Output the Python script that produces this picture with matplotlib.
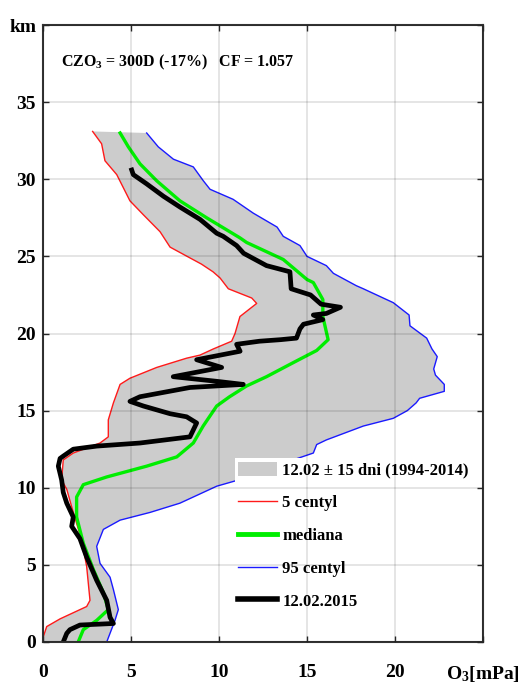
import matplotlib
matplotlib.use('Agg')
import matplotlib.pyplot as plt
from matplotlib.patches import Patch
from matplotlib.lines import Line2D

# ozone partial pressure [mPa] vs altitude [km]
p05_o3 = [2.82, 3.33, 3.52, 4.19, 4.94, 5.70, 6.65, 7.22, 8.35, 9.00, 9.66, 10.06, 10.53, 11.86, 12.14,
          11.19, 10.91, 10.72, 9.68, 8.92, 8.16, 6.46, 4.94, 4.38, 4.00, 3.71, 3.71, 3.24, 1.72, 1.15,
          1.06, 1.35, 1.72, 2.20, 2.48, 2.67, 2.48, 0.97, 0.21, 0.02, 0.0]
p05_alt = [33.1, 32.3, 31.2, 30.3, 28.6, 27.7, 26.6, 25.6, 24.9, 24.5, 24.0, 23.6, 22.9, 22.3, 21.95,
           21.1, 20.0, 19.5, 19.0, 18.6, 18.4, 17.8, 17.1, 16.7, 15.5, 14.4, 13.3, 12.9, 12.25, 11.8,
           10.5, 9.9, 8.4, 6.6, 4.9, 2.7, 2.3, 1.5, 1.0, 0.35, 0.0]

p95_o3 = [5.89, 6.55, 7.41, 8.54, 9.11, 9.49, 10.8, 11.95, 13.3, 13.65, 14.6, 15.0, 16.1, 16.5, 17.8,
          18.2, 19.9, 20.8, 20.85, 21.8, 22.1, 22.4, 22.2, 22.3, 22.8, 22.8, 21.4, 21.2, 20.7, 19.9,
          18.2, 16.1, 15.55, 15.36, 14.2, 13.85, 11.4, 9.87, 7.78, 6.08, 4.38, 3.43, 3.05, 3.24, 3.81,
          4.0, 4.28, 4.09, 3.62]
p95_alt = [33.0, 32.1, 31.3, 30.8, 29.9, 29.35, 28.7, 27.8, 26.9, 26.3, 25.7, 25.0, 24.4, 23.9, 23.1,
           22.9, 22.0, 21.2, 20.5, 19.7, 19.0, 18.5, 17.7, 17.3, 16.7, 16.25, 15.8, 15.5, 15.0, 14.5,
           14.0, 13.1, 12.8, 12.25, 11.8, 11.5, 10.6, 10.1, 9.0, 8.4, 7.9, 7.3, 6.2, 5.1, 4.2,
           3.4, 2.1, 1.4, 0.0]

med_o3 = [4.38, 4.85, 5.51, 6.46, 7.78, 9.3, 11.19, 11.57, 13.65, 15.0, 15.36, 15.9, 15.9, 16.2, 15.55,
          14.2, 12.7, 11.57, 10.6, 9.87, 9.1, 8.54, 7.6, 5.89, 3.62, 2.29, 1.91, 1.91, 2.29, 2.86,
          3.43, 3.71, 3.05, 2.29, 2.0]
med_alt = [33.0, 32.1, 31.0, 29.9, 28.6, 27.5, 26.2, 25.9, 24.8, 23.5, 23.3, 22.2, 21.1, 19.6, 18.9,
           18.1, 17.2, 16.6, 15.9, 15.3, 14.0, 12.9, 12.0, 11.4, 10.7, 10.2, 9.4, 8.1, 6.4, 4.7,
           3.2, 2.1, 1.4, 0.8, 0.0]

sonde_o3 = [5.04, 5.13, 5.89, 6.84, 7.78, 8.92, 9.87, 10.24, 11.0, 11.4, 12.7, 14.03, 14.1, 15.2, 15.8,
            16.9, 16.1, 15.36, 15.9, 14.8, 14.6, 14.4, 13.5, 12.3, 11.0, 11.2, 8.73, 10.15, 7.4, 9.87,
            11.38, 8.35, 5.51, 4.94, 5.7, 7.22, 8.16, 8.73, 8.35, 5.51, 3.05, 1.72, 1.15, 0.97, 0.87,
            1.06, 1.15, 1.35, 1.72, 1.63, 2.1, 2.48, 3.05, 3.62, 3.81, 4.0, 2.1, 1.53, 1.35, 1.15]
sonde_alt = [30.6, 30.3, 29.7, 28.9, 28.2, 27.4, 26.5, 26.3, 25.7, 25.2, 24.4, 24.0, 22.9, 22.5, 21.9,
             21.7, 21.3, 21.2, 20.9, 20.6, 20.3, 19.7, 19.6, 19.5, 19.3, 18.85, 18.3, 17.8, 17.2, 16.9,
             16.7, 16.5, 15.9, 15.6, 15.3, 14.8, 14.6, 14.2, 13.3, 12.9, 12.7, 12.5, 12.05, 11.9, 11.4,
             10.5, 9.7, 9.0, 8.1, 7.5, 6.7, 5.5, 4.0, 2.7, 1.6, 1.2, 1.1, 0.8, 0.56, 0.0]

x_ticks = [0, 5, 10, 15, 20, 25]
x_labels = ['0', '5', '10', '15', '20', 'O$_3$[mPa]']
y_ticks = [0, 5, 10, 15, 20, 25, 30, 35, 40]
y_labels = ['0', '5', '10', '15', '20', '25', '30', '35', 'km']
legend_labels = ['12.02 \u00b1 15 dni (1994-2014)', '5 centyl', 'mediana', '95 centyl', '12.02.2015']
info_text = 'CZO$_3$ = 300D (-17%)   CF = 1.057'

plt.rcParams['font.family'] = 'Liberation Serif'
plt.rcParams['font.weight'] = 'bold'
plt.rcParams['mathtext.fontset'] = 'custom'
plt.rcParams['mathtext.rm'] = 'Liberation Serif:bold'
plt.rcParams['mathtext.default'] = 'rm'

fig = plt.figure(figsize=(5.23, 6.95), dpi=100)
ax = fig.add_axes([43 / 523, 1 - 642 / 695, 440 / 523, 617 / 695])

band_color = '#cccccc'
red, green, blue = '#ff1a1a', '#00ee00', '#1a1aff'
# shaded band between the 5th and 95th percentile
ax.fill(p05_o3 + p95_o3[::-1], p05_alt + p95_alt[::-1], color=band_color, lw=0, zorder=1)
ax.plot(p05_o3, p05_alt, color=red, lw=1, zorder=1.5)
ax.plot(p95_o3, p95_alt, color=blue, lw=1, zorder=1.5)
ax.plot(med_o3, med_alt, color=green, lw=2.4, zorder=1.6)
ax.plot(sonde_o3, sonde_alt, color='black', lw=3.4, zorder=1.7)

ax.set_xlim(0, 25)
ax.set_ylim(0, 40)
ax.set_xticks(x_ticks)
ax.set_xticklabels(x_labels)
ax.set_yticks(y_ticks)
ax.set_yticklabels(y_labels)
ax.tick_params(direction='in', length=4, width=1, top=True, right=True,
               labelsize=14, color='#262626')
ax.tick_params(axis='x', pad=16)
ax.tick_params(axis='y', pad=5)
# grid sits on top of the data layer, like the original
ax.grid(True, color='black', alpha=0.12, lw=1.2)
ax.set_axisbelow(False)
for s in ax.spines.values():
    s.set_color('#333333')
    s.set_linewidth(1.5)

ax.text(1.0, 37.6, info_text, fontsize=11.5, fontweight='bold', va='center', ha='left')

handles = [Patch(facecolor=band_color, edgecolor='none'),
           Line2D([], [], color=red, lw=1),
           Line2D([], [], color=green, lw=3.5),
           Line2D([], [], color=blue, lw=1),
           Line2D([], [], color='black', lw=4)]
leg = ax.legend(handles, legend_labels, loc='upper left', bbox_to_anchor=(10.9, 11.9),
                bbox_transform=ax.transData, fontsize=12, frameon=True, facecolor='white',
                edgecolor='none', framealpha=1, fancybox=False, borderpad=0.2, borderaxespad=0,
                handlelength=2.3, handletextpad=0.35, labelspacing=0.97, handleheight=0.9)
leg.set_zorder(2.2)

fig.savefig('out.png', dpi=100)
